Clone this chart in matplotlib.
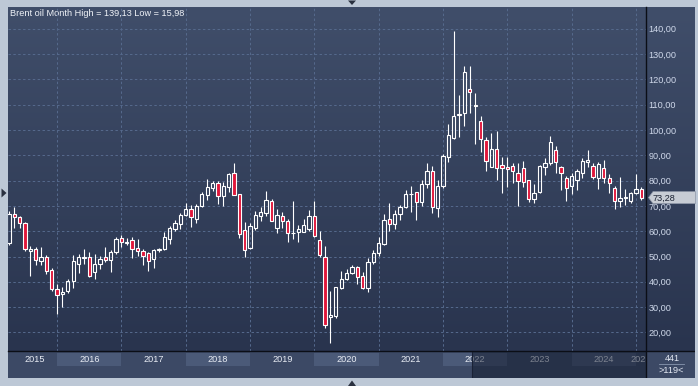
import numpy as np
import pandas as pd
import matplotlib
matplotlib.use("Agg")
import matplotlib.pyplot as plt
from matplotlib.patches import Rectangle, Polygon
from matplotlib.transforms import blended_transform_factory, Bbox, TransformedBbox

plt.rcParams['font.family'] = ['Liberation Sans', 'DejaVu Sans']

# ---------------- data ----------------
title = "Brent oil Month High = 139,13 Low = 15,98"
months = [str(p) for p in pd.period_range("2015-04", "2025-02", freq="M")]

opens = [
    55.2, 66.7, 65.5, 63.4, 52.1, 52.9, 48.4, 49.7, 44.7,
    37.3, 35.0, 36.3, 40.5, 47.1, 49.6, 49.8, 43.8, 47.1, 50.0, 48.5, 51.7,
    57.2, 55.5, 56.4, 53.5, 52.1, 51.4, 49.1, 52.6, 52.8, 57.0, 60.9, 63.0,
    66.3, 68.8, 65.0, 69.9, 74.5, 77.2, 78.9, 73.9, 77.6, 83.2, 74.6, 60.4,
    53.2, 61.3, 66.1, 67.2, 72.1, 61.4, 66.2, 64.2, 59.2, 59.6, 59.7, 60.7,
    65.9, 56.4, 49.7, 25.9, 26.6, 37.4, 41.3, 43.6, 45.7, 42.1, 37.4, 47.7,
    51.5, 54.8, 64.7, 63.0, 66.7, 69.4, 74.6, 75.4, 71.7, 78.5, 83.8, 69.3,
    78.0, 89.5, 96.8, 105.8, 106.6, 116.1, 109.6, 103.6, 96.1, 85.5, 92.4, 86.2,
    85.3, 85.7, 82.9, 84.9, 80.1, 72.6, 75.4, 85.3, 86.8, 92.1, 85.4, 80.9,
    78.0, 80.4, 82.9, 87.2, 85.8, 81.2, 84.9, 80.9, 77.2, 72.0, 73.2, 71.8,
    75.0, 76.6,
]
highs = [
    67.8, 69.7, 66.0, 63.8, 54.0, 53.9, 53.9, 50.6, 45.6,
    39.0, 38.1, 41.0, 50.5, 50.9, 52.9, 51.6, 50.8, 50.2, 53.8, 52.6, 57.6,
    58.5, 57.5, 57.8, 57.0, 53.0, 51.8, 53.1, 53.5, 59.7, 62.0, 64.3, 67.2,
    71.2, 70.3, 70.9, 75.3, 80.5, 79.7, 79.7, 79.5, 83.0, 87.0, 74.9, 63.6,
    63.2, 68.0, 69.6, 75.8, 72.9, 68.6, 67.6, 64.7, 71.8, 62.4, 64.7, 68.2,
    71.8, 60.0, 54.1, 36.5, 38.0, 44.2, 44.9, 46.6, 46.4, 43.9, 49.3, 52.4,
    57.6, 66.8, 71.0, 68.3, 70.4, 76.3, 77.8, 75.6, 80.1, 87.1, 85.8, 80.3,
    90.6, 102.4, 139.13, 113.9, 125.4, 125.4, 114.6, 105.5, 97.4, 98.7, 99.6, 89.2,
    89.2, 87.1, 87.1, 87.9, 80.3, 78.7, 86.0, 89.1, 97.8, 93.7, 85.6, 81.8,
    83.2, 84.7, 88.8, 92.1, 86.8, 87.2, 88.2, 82.6, 77.9, 81.3, 76.7, 75.3,
    82.6, 77.6,
]
lows = [
    54.6, 61.2, 61.2, 52.3, 42.1, 46.7, 46.7, 43.1, 36.4,
    27.2, 30.0, 35.7, 37.4, 43.4, 47.1, 41.7, 41.1, 45.2, 47.8, 43.8, 51.0,
    53.9, 54.6, 49.4, 50.2, 46.5, 44.4, 45.6, 51.6, 52.5, 55.1, 59.9, 60.7,
    65.9, 61.7, 63.3, 69.6, 72.2, 75.9, 70.7, 70.0, 75.5, 74.2, 57.4, 49.9,
    52.8, 60.6, 63.9, 65.9, 63.9, 59.2, 61.1, 55.8, 57.0, 55.8, 59.5, 60.2,
    57.8, 49.9, 21.6, 15.98, 25.5, 37.0, 40.7, 42.9, 39.1, 37.1, 35.8, 46.9,
    50.2, 54.6, 60.2, 60.9, 64.6, 69.2, 67.4, 64.5, 70.1, 77.2, 67.3, 65.8,
    77.0, 87.5, 96.5, 97.4, 101.4, 106.9, 94.4, 91.4, 83.6, 85.3, 80.3, 75.0,
    77.6, 78.9, 70.1, 77.4, 71.4, 71.3, 75.0, 82.1, 86.3, 83.2, 76.3, 72.1,
    74.7, 76.3, 80.9, 85.5, 80.5, 76.6, 78.9, 75.0, 68.7, 69.7, 70.4, 71.1,
    74.7, 72.4,
]
closes = [
    66.8, 65.5, 63.1, 53.0, 53.0, 48.5, 49.7, 44.4, 37.1,
    34.7, 35.8, 40.4, 48.1, 49.8, 49.9, 42.4, 47.1, 48.9, 48.5, 51.8, 57.0,
    55.6, 55.9, 52.9, 52.1, 50.2, 48.1, 52.5, 52.8, 57.6, 61.1, 63.4, 66.6,
    68.9, 65.7, 70.1, 74.7, 77.4, 79.2, 74.1, 77.8, 82.6, 74.5, 58.7, 52.5,
    62.0, 66.3, 67.4, 72.5, 64.2, 66.6, 64.2, 59.2, 59.4, 60.7, 62.4, 65.9,
    58.2, 50.5, 22.9, 26.7, 37.8, 41.3, 43.3, 45.8, 42.0, 37.7, 47.7, 51.5,
    55.2, 64.3, 63.0, 66.7, 69.4, 74.6, 74.9, 71.7, 78.5, 83.8, 69.7, 77.8,
    89.8, 98.1, 105.6, 106.2, 122.9, 115.0, 109.9, 96.3, 87.9, 92.4, 85.1, 84.9,
    84.5, 83.8, 79.7, 79.3, 72.6, 75.1, 85.8, 87.1, 95.1, 87.2, 82.9, 77.2,
    81.7, 83.7, 87.6, 88.0, 81.6, 86.6, 80.9, 78.9, 72.0, 73.0, 73.4, 75.0,
    76.6, 73.28,
]
price_ticks = [20, 30, 40, 50, 60, 70, 80, 90, 100, 110, 120, 130, 140]
years = [2015, 2016, 2017, 2018, 2019, 2020, 2021, 2022, 2023, 2024, 2025]
last_price_label = "73,28"
bars_total = "441"
bars_visible = ">119<"

assert len(opens) == len(highs) == len(lows) == len(closes) == len(months)

# ---------------- layout ----------------
W, H = 698, 386
fig = plt.figure(figsize=(W / 100, H / 100), dpi=100)
fig.patch.set_facecolor("#bdc8d6")

BG_TOP = np.array([0x40, 0x4e, 0x6a]) / 255
BG_BOT = np.array([0x29, 0x34, 0x4e]) / 255
PANEL = "#3c4965"
RED = "#e0173b"
WHITE = "#ffffff"

bg = fig.add_axes([0, 0, 1, 1])
bg.set_autoscale_on(False)
bg.axis("off")
bg.set_xlim(0, W)
bg.set_ylim(H, 0)

t = np.linspace(0, 1, 256)[:, None]
grad = (BG_TOP * (1 - t) + BG_BOT * t)[:, None, :]
bg.imshow(grad, extent=(8, 695, 351, 7), aspect="auto", interpolation="bilinear", zorder=0)
bg.add_patch(Rectangle((8, 351), 687, 27, fc=PANEL, ec="none", zorder=1))

# main axes: pixel calibration
PX0, PX1, PY0, PY1 = 8, 646, 7, 351
X_AT_JAN16, PX_PER_MONTH = 57.1, 5.36
Y20_PX, PX_PER_UNIT = 332.4, 2.53
ax = fig.add_axes([PX0 / W, (H - PY1) / H, (PX1 - PX0) / W, (PY1 - PY0) / H])
ax.patch.set_alpha(0)
xlo = (PX0 - X_AT_JAN16) / PX_PER_MONTH
xhi = (PX1 - X_AT_JAN16) / PX_PER_MONTH
ylo = 20 - (PY1 - Y20_PX) / PX_PER_UNIT
yhi = 20 + (Y20_PX - PY0) / PX_PER_UNIT
ax.set_xlim(xlo, xhi)
ax.set_ylim(ylo, yhi)

per = pd.PeriodIndex(months, freq="M")
xm = np.array([(p.year - 2016) * 12 + (p.month - 1) for p in per], dtype=float)
o = np.array(opens); h = np.array(highs); l = np.array(lows); c = np.array(closes)
top = np.maximum(o, c); bot = np.minimum(o, c)
up = c >= o

ax.vlines(xm, top, h, color=WHITE, lw=0.8, zorder=3)
ax.vlines(xm, l, bot, color=WHITE, lw=0.8, zorder=3)
heights = np.maximum(top - bot, 0.05)
ax.bar(xm[up], heights[up], bottom=bot[up], width=0.62, facecolor="none",
       edgecolor=WHITE, linewidth=0.8, zorder=4)
ax.bar(xm[~up], heights[~up], bottom=bot[~up], width=0.62, facecolor=RED,
       edgecolor=WHITE, linewidth=0.8, zorder=4)

year_starts = [(y - 2016) * 12 for y in years if (y - 2016) * 12 > xlo]
ax.set_xticks(year_starts)
ax.set_xticklabels([])
ax.set_yticks(price_ticks)
ax.set_yticklabels([f"{v:.2f}".replace(".", ",") for v in price_ticks])
ax.yaxis.tick_right()
ax.tick_params(axis="x", length=0)
ax.tick_params(axis="y", length=0, pad=2.0, labelsize=6.6, labelcolor="#cfd8ea")
ax.grid(True, color="#566a8d", lw=0.7, ls=(0, (2.5, 2.5)), zorder=1)
for s in ax.spines.values():
    s.set_visible(False)

# bottom axis: year bands and labels
tb = blended_transform_factory(ax.transData, bg.transData)
clipbox = TransformedBbox(Bbox.from_extents(8, 352, 646, 378), bg.transData)
for y in years:
    s = (y - 2016) * 12
    e = s + 12
    if y % 2 == 0:
        r = Rectangle((s, 352.5), 12, 13.5, transform=tb, fc="#4b5a78", ec="none", zorder=2)
        bg.add_patch(r)
        r.set_clip_box(clipbox)
    if 2016 <= y < 2025:
        cx = s + 6
    else:
        cx = (max(s, xlo) + min(e, xhi)) / 2 + (0.4 if y == 2015 else 0)
    bg.text(cx, 359.5, str(y), transform=tb, ha="center", va="center",
            size=6.6, color="#e8ecf4", zorder=3)

# title
bg.text(10, 13.5, title, ha="left", va="center", size=6.6, color="#f0f3f8", zorder=6)

# little navigation triangles on the frame
tri_c = "#2a3140"
bg.add_patch(Polygon([(348, 0.5), (356, 0.5), (352, 5)], closed=True, fc=tri_c, ec="none", zorder=6))
bg.add_patch(Polygon([(348, 386), (356, 386), (352, 380.5)], closed=True, fc=tri_c, ec="none", zorder=6))
bg.add_patch(Polygon([(1.5, 188.5), (1.5, 197.5), (6.5, 193)], closed=True, fc=tri_c, ec="none", zorder=6))

# overlay axes (drawn last)
ov = fig.add_axes([0, 0, 1, 1])
ov.set_autoscale_on(False)
ov.axis("off")
ov.patch.set_alpha(0)
ov.set_xlim(0, W)
ov.set_ylim(H, 0)
# dimmed (scroll) region of the time axis
ov.add_patch(Rectangle((472, 352), 174, 26, fc="#121a2c", ec="none", alpha=0.5, zorder=2))
ov.plot([472, 472], [352, 378], color="#1a2236", lw=0.8, zorder=3)
# bottom-right counter box (covers label overflow)
ov.add_patch(Rectangle((646, 351), 49, 27, fc=PANEL, ec="none", zorder=3))
ov.plot([646, 646], [7, 378], color="#0b0e16", lw=1.0, zorder=5)
ov.plot([8, 695], [351.3, 351.3], color="#0b0e16", lw=1.0, zorder=5)
# light frame edges
ov.add_patch(Rectangle((695, 0), 3, H, fc="#bdc8d6", ec="none", zorder=6))
ov.add_patch(Rectangle((0, 378), W, 8, fc="#bdc8d6", ec="none", zorder=6))
ov.add_patch(Polygon([(348, 386), (356, 386), (352, 380.5)], closed=True, fc=tri_c, ec="none", zorder=7))
ov.text(672, 358.3, bars_total, ha="center", va="center", size=6.6, color="#e3e8f2", zorder=6)
ov.plot([659, 684], [363.5, 363.5], color="#8896ae", lw=0.6, zorder=6)
ov.text(671, 370.5, bars_visible, ha="center", va="center", size=6.6, color="#e3e8f2", zorder=6)

# last price marker
lp_y = Y20_PX - (closes[-1] - 20) * PX_PER_UNIT
ov.add_patch(Polygon([(648.5, lp_y), (653, lp_y - 6), (695.5, lp_y - 6), (695.5, lp_y + 6), (653, lp_y + 6)],
                     closed=True, fc="#c7ccd4", ec="#8e97a8", lw=0.5, zorder=7))
ov.text(653, lp_y + 0.3, last_price_label, ha="left", va="center", size=6.6, color="#1b2232", zorder=8)

fig.savefig("out.png", dpi=100, facecolor=fig.get_facecolor())
